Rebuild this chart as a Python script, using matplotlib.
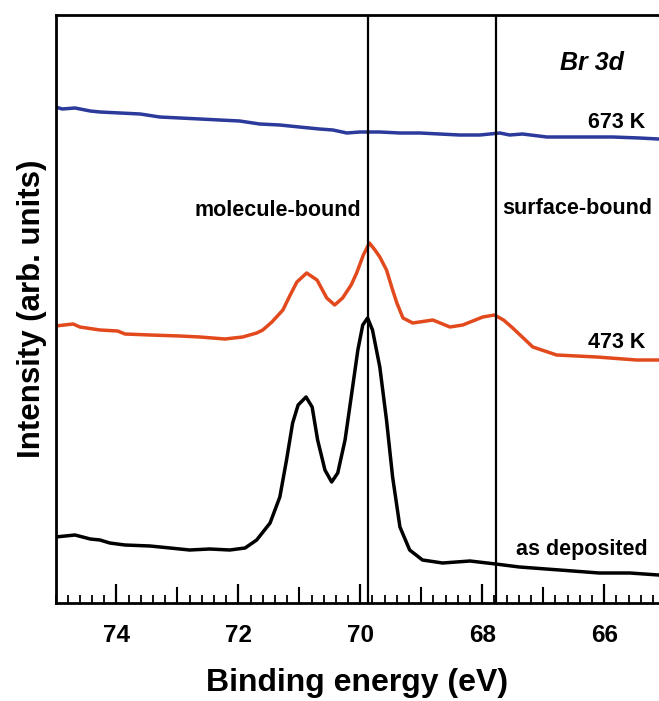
import matplotlib.pyplot as plt
from matplotlib.ticker import MultipleLocator

plt.rcParams['font.family'] = ['Liberation Sans', 'DejaVu Sans']
plt.rcParams['font.weight'] = 'bold'

# Binding energy (eV) and intensity (arb. units)
be_673 = [75.0, 74.89, 74.68, 74.43, 74.27, 73.94, 73.61, 73.29, 72.96, 72.63, 72.31, 71.98,
          71.65, 71.32, 71.0, 70.67, 70.45, 70.22, 70.01, 69.68, 69.35, 69.02, 68.7, 68.37,
          68.04, 67.71, 67.55, 67.34, 66.94, 66.4, 65.86, 65.42, 65.11]
int_673 = [496, 494, 495, 492, 491, 490, 489, 486, 485, 484, 483, 482,
           479, 478, 476, 474, 473, 470, 471, 471, 470, 470, 469, 468,
           468, 470, 468, 469, 466, 466, 466, 465, 464]

be_473 = [75.0, 74.71, 74.6, 74.27, 73.98, 73.86, 73.45, 72.96, 72.63, 72.22, 71.93, 71.7,
          71.6, 71.45, 71.27, 71.15, 71.04, 70.88, 70.71, 70.55, 70.42, 70.29, 70.15,
          70.06, 69.95, 69.85, 69.76, 69.68, 69.57, 69.48, 69.4, 69.3, 69.14, 68.81, 68.53,
          68.32, 67.99, 67.8, 67.65, 67.5, 67.17, 66.78, 66.12, 65.47, 65.11]
int_473 = [277, 279, 276, 273, 272, 269, 268, 267, 266, 264, 266, 270,
           273, 281, 293, 308, 321, 330, 323, 305, 298, 305, 318,
           330, 348, 360, 353, 346, 333, 315, 300, 285, 280, 283, 276,
           278, 286, 288, 283, 275, 256, 248, 246, 243, 243]

be_dep = [75.0, 74.68, 74.43, 74.27, 74.11, 73.86, 73.45, 73.12, 72.8, 72.47, 72.14, 71.89,
          71.7, 71.48, 71.32, 71.21, 71.11, 71.02, 70.89, 70.79, 70.7, 70.58, 70.47, 70.37,
          70.25, 70.14, 70.04, 69.96, 69.88, 69.8, 69.68, 69.57, 69.47, 69.35, 69.19, 68.98,
          68.65, 68.2, 67.78, 67.39, 66.73, 66.08, 65.58, 65.11]
int_dep = [66, 68, 64, 63, 60, 58, 57, 55, 53, 54, 53, 55,
           63, 80, 106, 143, 180, 198, 206, 196, 163, 133, 121, 130,
           163, 210, 253, 278, 285, 273, 236, 183, 126, 76, 53, 43,
           40, 42, 39, 36, 33, 30, 30, 28]

vlines = [69.87, 67.77]

fig = plt.figure(figsize=(6.59, 7.01), dpi=100)
ax = fig.add_axes([55.5 / 659, 98 / 701, 1 - 55.5 / 659, 588 / 701])

ax.plot(be_673, int_673, color='#2b3a9b', linewidth=2.5)
ax.plot(be_473, int_473, color='#e2491c', linewidth=2.5)
ax.plot(be_dep, int_dep, color='black', linewidth=2.5)
for v in vlines:
    ax.axvline(v, color='black', linewidth=1.6)

ax.set_xlim(75, 65.1)
ax.set_ylim(0, 588)

ax.text(66.2, 540, 'Br 3d', ha='center', va='center',
        fontsize=18, fontstyle='italic', fontweight='bold')
ax.text(65.8, 480, '673 K', ha='center', va='center', fontsize=15.5)
ax.text(65.8, 260, '473 K', ha='center', va='center', fontsize=15.5)
ax.text(66.37, 53, 'as deposited', ha='center', va='center', fontsize=15.5)
ax.text(71.35, 393, 'molecule-bound', ha='center', va='center', fontsize=15.5)
ax.text(66.45, 395, 'surface-bound', ha='center', va='center', fontsize=15.5)

ax.xaxis.set_major_locator(MultipleLocator(2))
ax.xaxis.set_minor_locator(MultipleLocator(0.2))
ax.tick_params(axis='x', which='major', direction='in', length=13.5, width=1.6,
               labelsize=17.5, pad=15)
ax.tick_params(axis='x', which='minor', direction='in', length=6, width=1.3)
# medium ticks at odd integers
for t in [73, 71, 69, 67]:
    ax.plot([t, t], [0, 0.026], color='black', linewidth=1.5,
            transform=ax.get_xaxis_transform())
ax.set_yticks([])

ax.spines['right'].set_visible(False)
for s in ['left', 'top', 'bottom']:
    ax.spines[s].set_linewidth(2)

ax.set_xlabel('Binding energy (eV)', fontsize=23, fontweight='bold', labelpad=15)
ax.set_ylabel('Intensity (arb. units)', fontsize=22.5, fontweight='bold', labelpad=6)

fig.savefig('out.png', dpi=100)
